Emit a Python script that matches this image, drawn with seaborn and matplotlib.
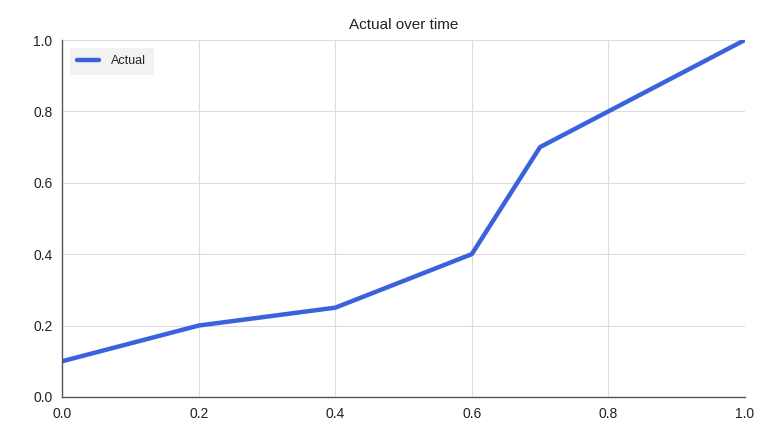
import pandas as pd
import seaborn as sns
import matplotlib.pyplot as plt

time = [0.0, 0.2, 0.4, 0.6, 0.7, 1.0]
actual = [0.1, 0.2, 0.25, 0.4, 0.7, 1.0]
ticks = [0.0, 0.2, 0.4, 0.6, 0.8, 1.0]

df = pd.DataFrame({'Time': time, 'Actual': actual, 'Series': 'Actual'})

sns.set_style('white')
plt.rcParams['font.family'] = ['Liberation Sans', 'DejaVu Sans']

fig, ax = plt.subplots(figsize=(7.6, 4.4), dpi=100)
fig.subplots_adjust(left=0.082, right=0.98, bottom=0.098, top=0.909)

sns.lineplot(x='Time', y='Actual', data=df, hue='Series', palette=['#3a62dc'],
             linewidth=3.2, ax=ax, sort=False)

ax.set_xlim(0, 1)
ax.set_ylim(0, 1)
ax.set_xticks(ticks)
ax.set_yticks(ticks)
ax.set_xticklabels([f'{t:.1f}' for t in ticks])
ax.set_yticklabels([f'{t:.1f}' for t in ticks])
ax.tick_params(length=0, labelsize=10, colors='#222222', pad=7)
ax.grid(True, color='#dddddd', linewidth=0.8)
ax.set_xlabel('')
ax.set_ylabel('')
for side in ['top', 'right']:
    ax.spines[side].set_visible(False)
for side in ['left', 'bottom']:
    ax.spines[side].set_color('#555555')
    ax.spines[side].set_linewidth(1)

ax.set_title('Actual over time', fontsize=11, color='#222222', pad=8)
leg = ax.legend(loc='upper left', fontsize=9, frameon=True, facecolor='#f2f2f2',
                edgecolor='none', handlelength=1.7, handletextpad=1.0,
                borderpad=0.6, borderaxespad=0.6)
leg.get_frame().set_alpha(1)

plt.savefig('out.png')
plt.close()
